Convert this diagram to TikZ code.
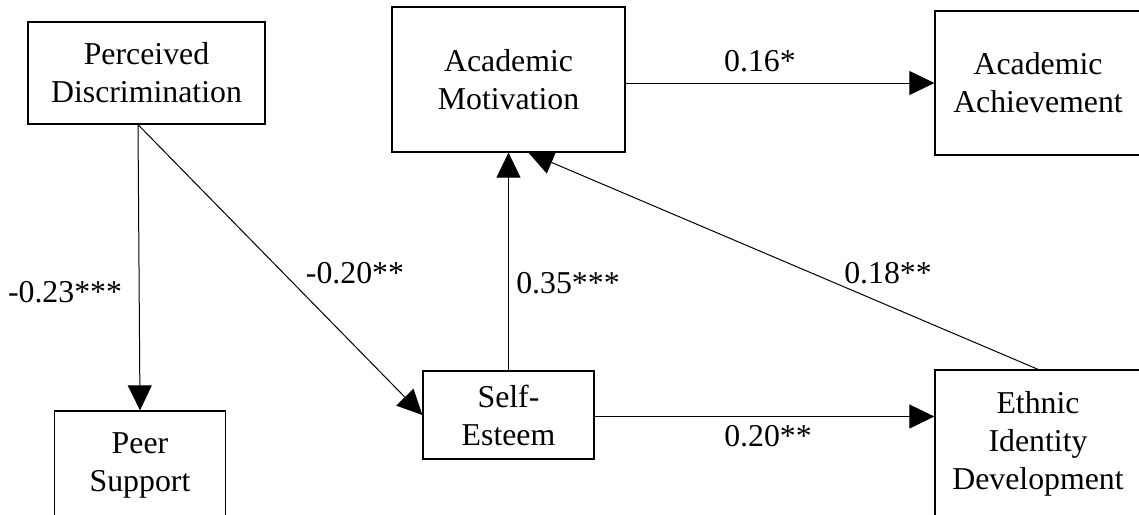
\documentclass[tikz,border=0pt]{standalone}
\usepackage{fontspec}
\setmainfont{Liberation Serif}
\usetikzlibrary{arrows.meta,calc}
\begin{document}
\begin{tikzpicture}[x=0.5pt,y=-0.5pt,
  box/.style={draw,line width=0.65pt,inner sep=0pt,align=center,
    font=\fontsize{15.9pt}{19pt}\selectfont},
  lbl/.style={inner sep=0pt,font=\fontsize{15.9pt}{19pt}\selectfont},
  arr/.style={line width=0.5pt,-{Triangle[length=12.5pt,width=12pt]}}]
\useasboundingbox (0,0) rectangle (1139,514);
\clip (0,0) rectangle (1139,514);
\node[box,minimum width=118.5pt,minimum height=51pt] (pd) at (146.5,73) {Perceived\\Discrimination};
\node[box,minimum width=116.5pt,minimum height=72.5pt] (am) at (508.5,79.5) {Academic\\Motivation};
\node[box,minimum width=103pt,minimum height=72pt] (aa) at (1038,83) {Academic\\Achievement};
\node[box,minimum width=85.5pt,minimum height=54.5pt] (ps) at (140,465.5) {Peer\\Support};
\node[box,minimum width=85.5pt,minimum height=44pt] (se) at (508.5,415) {Self-\\Esteem};
\node[box,minimum width=103pt,minimum height=74pt] (eid) at (1038,444) {Ethnic\\Identity\\Development};
\coordinate (pds) at ($(pd.south -| ps.north)+(-2,0)$);
\coordinate (ame) at ($(am.east)+(0,3.5)$);
\coordinate (see) at ($(se.east)+(0,1.5)$);
\draw[arr] (pds) -- (ps.north);
\draw[arr] (pds) -- (se.west);
\draw[arr] (se.north) -- (am.south);
\draw[arr] (eid.north) -- ($(am.south)+(20,0)$);
\draw[arr] (see) -- (see -| eid.west);
\draw[arr] (ame) -- (ame -| aa.west);
\node[lbl] (l1) at (65,292) {-0.23***};
\node[lbl] (l2) at (355,273) {-0.20**};
\node[lbl] (l3) at (568,283) {0.35***};
\node[lbl] (l4) at (888,273) {0.18**};
\node[lbl] (l5) at (768,436) {0.20**};
\node[lbl] (l6) at (760,61) {0.16*};
\end{tikzpicture}
\end{document}
